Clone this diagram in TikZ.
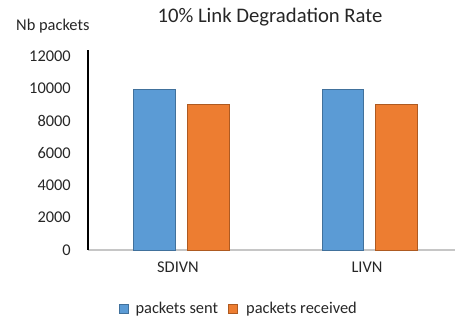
\documentclass[tikz,border=0pt]{standalone}
\usepackage{fontspec}
\setmainfont{Carlito}
\usetikzlibrary{positioning}
\definecolor{sentblue}{HTML}{5B9BD5}
\definecolor{sentedge}{HTML}{41719C}
\definecolor{recvorange}{HTML}{ED7D31}
\definecolor{recvedge}{HTML}{AE5A21}
\begin{document}
\begin{tikzpicture}[x=1pt,y=1pt,
  every node/.style={inner sep=0pt, text=black!85, font=\fontsize{16.4}{18}\selectfont},
  sent/.style={fill=sentblue, draw=sentedge, line width=0.7pt},
  recv/.style={fill=recvorange, draw=recvedge, line width=0.7pt}]
\useasboundingbox (0,0) rectangle (455,324);
% title and axis name
\node (title) [font=\fontsize{20.7}{24}\selectfont] at (270,307) {10\% Link Degradation Rate};
\node (ylabel) [anchor=west] at (16,298) {Nb packets};
% axes
\coordinate (top) at (88,274);
\coordinate (origin) at (88,74);
\coordinate (xend) at (455,74);
\draw [gray!45, line width=1.5pt] (origin) -- (xend);
\draw [black, line width=1.2pt] (origin) -- (top);
\foreach \v [count=\i from 0] in {0,2000,...,12000}
  \node (tick\i) [anchor=east] at (71,74+0.01615*\v) {\v};
% bars
\draw [sent] (133.3,74) rectangle (175.3,74+0.01615*9950);
\draw [recv] (187.3,74) rectangle (229.3,74+0.01615*9000);
\draw [sent] (322,74) rectangle (363,74+0.01615*9950);
\draw [recv] (375,74) rectangle (417,74+0.01615*9000);
\node (sdivn) at (178,57) {SDIVN};
\node (livn) at (367,57) {LIVN};
% legend
\node (keysent) [sent, minimum size=9pt] at (123.5,15) {};
\node (lsent) [right=7pt of keysent] {packets sent};
\node (keyrecv) [recv, minimum size=9pt, right=10pt of lsent] {};
\node (lrecv) [right=8pt of keyrecv] {packets received};
\end{tikzpicture}
\end{document}
